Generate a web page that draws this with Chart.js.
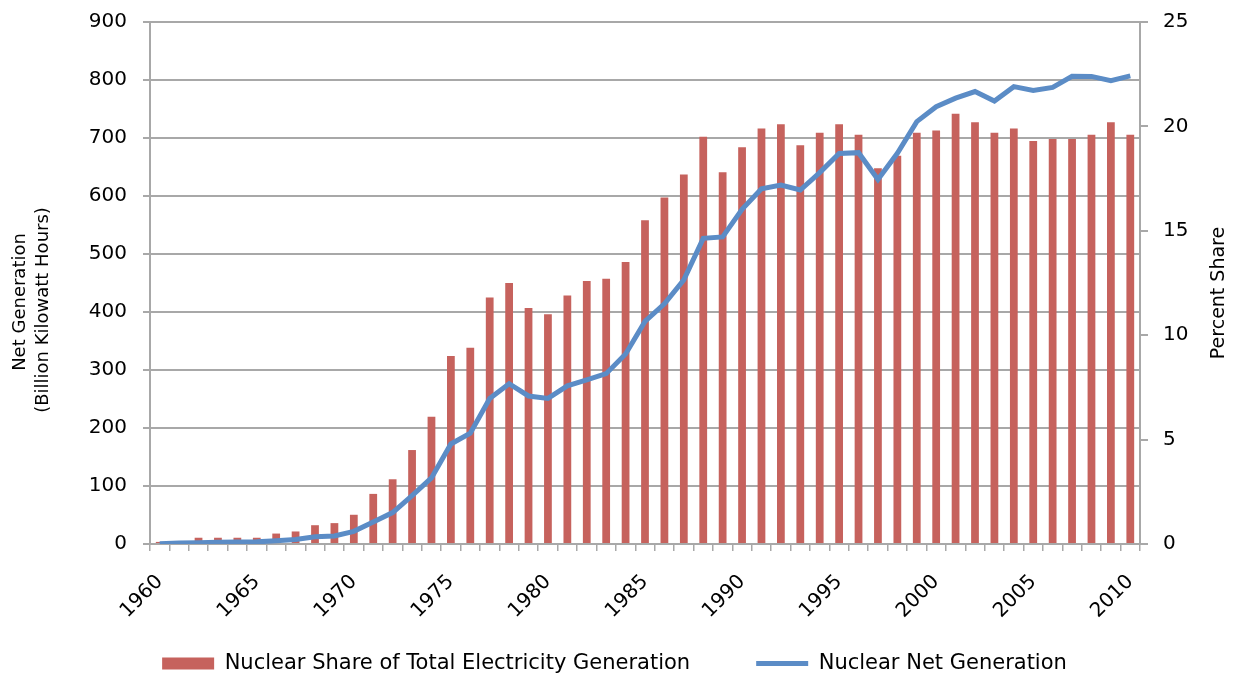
<!DOCTYPE html>
<html>
<head>
<meta charset="utf-8">
<script src="https://cdn.jsdelivr.net/npm/chart.js@4"></script>
<style>
  body { margin: 0; background: #fff; }
  #wrap { width: 1234px; height: 675px; position: relative; }
</style>
</head>
<body>
<div id="wrap"><canvas id="chart"></canvas></div>
<script>
// years 1960 - 2010
const years = []
for (let y = 1960; y <= 2010; y++) years.push(String(y))

// nuclear share of total electricity generation (percent)
const shareValues = [
    0.1, 0.1, 0.3, 0.3, 0.3, 0.3, 0.5, 0.6, 0.9, 1.0,
    1.4, 2.4, 3.1, 4.5, 6.1, 9.0, 9.4, 11.8, 12.5, 11.3,
    11.0, 11.9, 12.6, 12.7, 13.5, 15.5, 16.6, 17.7, 19.5, 17.8,
    19.0, 19.9, 20.1, 19.1, 19.7, 20.1, 19.6, 18.0, 18.6, 19.7,
    19.8, 20.6, 20.2, 19.7, 19.9, 19.3, 19.4, 19.4, 19.6, 20.2,
    19.6
]

// nuclear net generation (billion kWh)
const netGenValues = [
    0.5, 1.7, 2.3, 3.2, 3.3, 3.7, 5.5, 7.7, 12.5, 13.9,
    21.8, 38.1, 54.1, 83.5, 114.0, 172.5, 191.1, 250.9, 276.4, 255.2,
    251.1, 272.7, 282.8, 293.7, 327.6, 383.7, 414.0, 455.3, 527.0, 529.4,
    576.9, 612.6, 618.8, 610.3, 640.4, 673.4, 674.7, 628.6, 673.7, 728.3,
    753.9, 768.8, 780.1, 763.7, 788.5, 782.0, 787.2, 806.4, 806.2, 798.9,
    807.0
]

const leftTicks = [0, 100, 200, 300, 400, 500, 600, 700, 800, 900]
const rightTicks = [0, 5, 10, 15, 20, 25]

const FONT = "'DejaVu Sans', Verdana, sans-serif"
const GRID = '#a8a8a8'

// axis titles drawn by hand (right one reads bottom-to-top like Excel)
const axisTitles = {
    id: 'axisTitles',
    afterLayout(chart) {
        // x labels hang below the (shortened) x axis box, don't clip them
        chart.scales.x.bottom = chart.height
    },
    afterDraw(chart) {
        const ctx = chart.ctx
        const area = chart.chartArea
        const cy = (area.top + area.bottom) / 2
        ctx.save()
        ctx.fillStyle = '#000'
        ctx.font = '18px ' + FONT
        ctx.textAlign = 'center'
        ctx.textBaseline = 'middle'

        ctx.save()
        ctx.translate(20, cy + 19)
        ctx.rotate(-Math.PI / 2)
        ctx.fillText('Net Generation', 0, 0)
        ctx.restore()

        ctx.save()
        ctx.translate(43, cy + 27)
        ctx.rotate(-Math.PI / 2)
        ctx.fillText('(Billion Kilowatt Hours)', 0, 0)
        ctx.restore()

        ctx.save()
        ctx.translate(1219, cy + 10)
        ctx.rotate(-Math.PI / 2)
        ctx.font = '19px ' + FONT
        ctx.fillText('Percent Share', 0, 0)
        ctx.restore()

        ctx.restore()
    }
}

// y axes: fixed width, and no extra top/bottom padding from the labels
function fitY(width) {
    return (s) => {
        s.width = width
        s.paddingTop = 0
        s.paddingBottom = 0
    }
}

new Chart(document.getElementById('chart'), {
    data: {
        labels: years,
        datasets: [{
            type: 'line',
            label: 'Nuclear Net Generation',
            data: netGenValues,
            yAxisID: 'y',
            borderColor: '#5b8cc6',
            backgroundColor: '#5b8cc6',
            borderWidth: 5,
            pointRadius: 0,
            pointStyle: 'line',
            tension: 0
        }, {
            type: 'bar',
            label: 'Nuclear Share of Total Electricity Generation',
            data: shareValues,
            yAxisID: 'y1',
            backgroundColor: '#c6625d',
            borderWidth: 0,
            pointStyle: 'rect',
            barPercentage: 0.4,
            categoryPercentage: 1
        }]
    },
    options: {
        responsive: true,
        maintainAspectRatio: false,
        animation: false,
        layout: { padding: { left: 25, right: 30, top: 22, bottom: -9 } },
        plugins: {
            tooltip: { enabled: false },
            legend: {
                position: 'bottom',
                labels: {
                    font: { family: FONT, size: 21 },
                    color: '#000',
                    usePointStyle: true,
                    pointStyleWidth: 52,
                    boxHeight: 12,
                    padding: 66,
                    sort: (a, b) => b.datasetIndex - a.datasetIndex
                }
            }
        },
        scales: {
            x: {
                offset: true,
                grid: { drawOnChartArea: false, drawTicks: true, tickLength: 7, color: GRID, lineWidth: 1.5 },
                border: { color: GRID, width: 2 },
                ticks: {
                    autoSkip: false,
                    maxRotation: 45,
                    minRotation: 45,
                    padding: 19,
                    color: '#000',
                    font: { family: FONT, size: 20 },
                    callback: function(v, i) {
                        const yr = Number(years[i])
                        return yr % 5 === 0 ? years[i] : ''
                    }
                },
                afterFit: (s) => { s.height = 43 }
            },
            y: {
                position: 'left',
                min: leftTicks[0],
                max: leftTicks[leftTicks.length - 1],
                afterBuildTicks: (s) => { s.ticks = leftTicks.map(v => ({ value: v })) },
                afterFit: fitY(125),
                grid: { color: GRID, lineWidth: 2, tickLength: 7 },
                border: { color: GRID, width: 2 },
                ticks: { padding: 16, color: '#000', font: { family: FONT, size: 20 } }
            },
            y1: {
                position: 'right',
                min: rightTicks[0],
                max: rightTicks[rightTicks.length - 1],
                afterBuildTicks: (s) => { s.ticks = rightTicks.map(v => ({ value: v })) },
                afterFit: fitY(64),
                grid: { drawOnChartArea: false, color: GRID, lineWidth: 2, tickLength: 8 },
                border: { color: GRID, width: 2 },
                ticks: { padding: 15, color: '#000', font: { family: FONT, size: 20 } }
            }
        }
    },
    plugins: [axisTitles]
});
</script>
</body>
</html>
